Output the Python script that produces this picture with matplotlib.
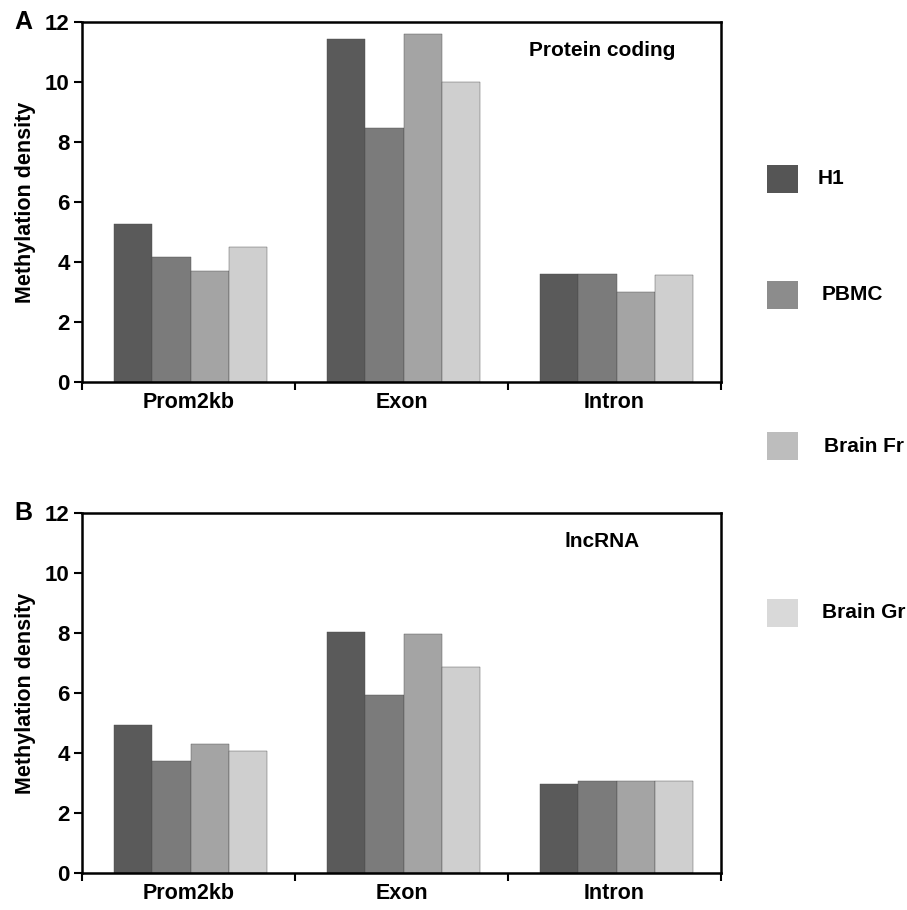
""" methylation density bar chart, protein coding vs lncRNA """

import numpy as np
import matplotlib.pyplot as plt
from matplotlib.patches import Rectangle

plt.rcParams['font.family'] = ['Liberation Sans', 'DejaVu Sans']
plt.rcParams['font.weight'] = 'bold'

# --- data ---
regions = ["Prom2kb", "Exon", "Intron"]
samples = ["H1", "PBMC", "Brain Fr", "Brain Gr"]

protein_h1 = [5.26, 11.42, 3.61]
protein_pbmc = [4.17, 8.46, 3.61]
protein_brain_fr = [3.71, 11.59, 3.00]
protein_brain_gr = [4.49, 10.00, 3.56]

lnc_h1 = [4.94, 8.03, 2.97]
lnc_pbmc = [3.73, 5.93, 3.08]
lnc_brain_fr = [4.29, 7.97, 3.08]
lnc_brain_gr = [4.07, 6.88, 3.08]

bar_colors = ["#5a5a5a", "#7b7b7b", "#a4a4a4", "#cfcfcf"]
legend_colors = ["#555555", "#8c8c8c", "#bdbdbd", "#d9d9d9"]

W, H = 907, 910
fig = plt.figure(figsize=(W / 100, H / 100), dpi=100)


def px_axes(left, top, right, bottom):
    return fig.add_axes([left / W, 1 - bottom / H, (right - left) / W, (bottom - top) / H])


def draw_panel(ax, series, title, letter):
    x = np.arange(len(regions))
    bw = 0.18
    for i, vals in enumerate(series):
        ax.bar(x + (i - 1.5) * bw + 0.01, vals, width=bw, color=bar_colors[i],
               edgecolor="#4a4a4a", linewidth=0.3, zorder=2)
    ax.set_xlim(-0.5, 2.5)
    ax.set_ylim(0, 12)
    ax.set_yticks(range(0, 13, 2))
    ax.set_xticks([-0.5, 0.5, 1.5, 2.5])
    ax.set_xticklabels([])
    ax.set_xticks(x, minor=True)
    ax.set_xticklabels(regions, minor=True, fontsize=15.5, fontweight="bold")
    ax.tick_params(axis="x", which="minor", length=0, pad=7)
    ax.tick_params(axis="x", which="major", direction="out", length=6, width=1.5)
    ax.tick_params(axis="y", direction="out", length=6, width=1.5, labelsize=16, pad=3)
    for lab in ax.get_yticklabels():
        lab.set_fontweight("bold")
    for sp in ax.spines.values():
        sp.set_linewidth(1.8)
    ax.set_ylabel("Methylation density", fontsize=15.5, fontweight="bold", labelpad=6)
    ax.text(0.814, 0.922, title, transform=ax.transAxes, ha="center", va="center",
            fontsize=15, fontweight="bold")
    ax.text(-0.092, 1.0, letter, transform=ax.transAxes, ha="center", va="center",
            fontsize=18, fontweight="bold")


ax_a = px_axes(82, 22, 721, 382)
draw_panel(ax_a, [protein_h1, protein_pbmc, protein_brain_fr, protein_brain_gr],
           "Protein coding", "A")

ax_b = px_axes(82, 513, 721, 873)
draw_panel(ax_b, [lnc_h1, lnc_pbmc, lnc_brain_fr, lnc_brain_gr],
           "lncRNA", "B")

# legend drawn by hand, spacing is uneven in the original
legend_y = [179, 295, 446, 613]
legend_tx = [818, 822, 824, 822]
for name, col, yc, tx in zip(samples, legend_colors, legend_y, legend_tx):
    fig.add_artist(Rectangle((767 / W, 1 - (yc + 14) / H), 31 / W, 28 / H,
                             transform=fig.transFigure, facecolor=col,
                             edgecolor="none"))
    fig.text(tx / W, 1 - yc / H, name, ha="left", va="center",
             fontsize=15, fontweight="bold")

fig.savefig("out.png", dpi=100)
